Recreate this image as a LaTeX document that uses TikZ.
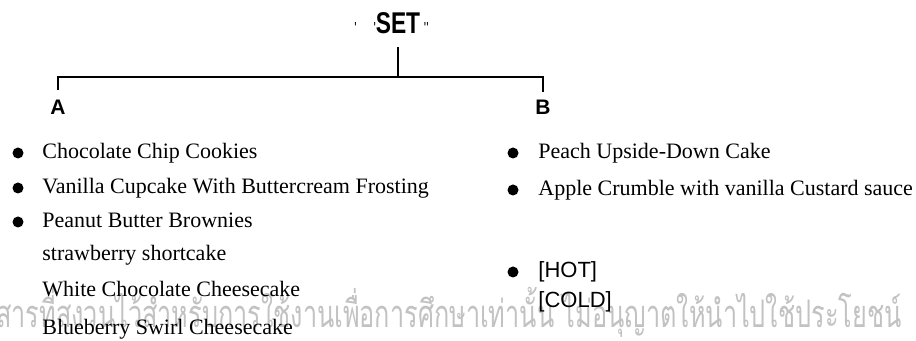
\documentclass[tikz,border=0pt]{standalone}
\usepackage{fontspec}
\setmainfont{Liberation Serif}
\setsansfont{Liberation Sans}
\newfontfamily\thaifont[Script=Thai]{Loma}
\begin{document}
\begin{tikzpicture}[x=0.5pt,y=-0.5pt,
  treeline/.style={line width=1.3pt},
  headtext/.style={inner sep=0pt,font=\sffamily\bfseries\fontsize{15}{15}\selectfont,xscale=0.76,transform shape},
  branchtext/.style={inner sep=0pt,font=\sffamily\bfseries\fontsize{10.5}{10.5}\selectfont},
  itemtext/.style={inner sep=0pt,anchor=base west,font=\fontsize{11}{11}\selectfont},
  tagtext/.style={inner sep=0pt,anchor=base west,font=\sffamily\fontsize{11}{11}\selectfont},
  dot/.style={circle,fill=black,inner sep=0pt,minimum size=5.5pt},
  stamp/.style={inner sep=0pt,anchor=west,text=black!24,xscale=0.665,transform shape,
    font=\thaifont\fontsize{19}{19}\selectfont}]
\useasboundingbox (0,0) rectangle (916,341);
\fill[white] (0,0) rectangle (916,341);

% faint notice running across the foot of the page
\node[stamp] (notice) at (-4,312) {สารที่สงวนไว้สำหรับการใช้งานเพื่อการศึกษาเท่านั้น ไม่อนุญาตให้นำไปใช้ประโยชน์};

% root and branch labels
\newcommand\tick{{\mdseries\fontsize{8}{8}\selectfont\textquotesingle}}
\node[headtext,anchor=base] (set) at (398,34)
  {\llap{\tick\hspace{11pt}\tick}SET\rlap{\,\tick\tick}};
\node[branchtext] (a) at (58,107) {A};
\node[branchtext] (b) at (543,107) {B};

% tree connectors
\coordinate (stem) at (398,47);
\coordinate (jn) at (398,77);
\coordinate (ta) at (58,90);
\coordinate (tb) at (543,92);
\draw[treeline] (stem) -- (jn);
\draw[treeline] (ta) |- (jn) -| (tb);

% left column
\node[dot] (d1) at (18,153) {};
\node[itemtext] (i1) at (42,159) {Chocolate Chip Cookies};
\node[dot] (d2) at (18,188) {};
\node[itemtext] (i2) at (42,194) {Vanilla Cupcake With Buttercream Frosting};
\node[dot] (d3) at (18,222) {};
\node[itemtext] (i3) at (42,228) {Peanut Butter Brownies};
\node[itemtext] (i4) at (42,261) {strawberry shortcake};
\node[itemtext] (i5) at (42,297) {White Chocolate Cheesecake};
\node[itemtext] (i6) at (42,335) {Blueberry Swirl Cheesecake};

% right column
\node[dot] (e1) at (513,153) {};
\node[itemtext] (j1) at (538,159) {Peach Upside-Down Cake};
\node[dot] (e2) at (513,190) {};
\node[itemtext] (j2) at (538,196) {Apple Crumble with vanilla Custard sauce};
\node[dot] (e3) at (513,272) {};
\node[tagtext] (j3) at (538,278) {[HOT]};
\node[tagtext] (j4) at (538,308) {[COLD]};
\end{tikzpicture}
\end{document}
